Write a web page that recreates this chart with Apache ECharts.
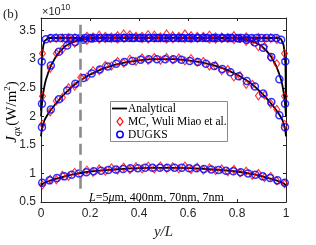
<!DOCTYPE html>
<html>
<head>
<meta charset="utf-8">
<script src="https://cdn.jsdelivr.net/npm/echarts@6/dist/echarts.min.js"></script>
<style>html,body{margin:0;padding:0;background:#fff}#c{width:316px;height:245px}</style>
</head>
<body>
<div id="c"></div>
<script>
// ---- data (values in units of 1e10 W/m^2) ----
const xTicks = [0, 0.2, 0.4, 0.6, 0.8, 1];
const yTicks = [0.5, 1, 1.5, 2, 2.5, 3, 3.5];

// Analytical curves
const xAna = [0,0.002,0.005,0.01,0.015,0.02,0.03,0.04,0.06,0.08,0.1,0.125,0.15,0.2,0.25,0.3,0.35,0.4,0.45,0.5,0.55,0.6,0.65,0.7,0.75,0.8,0.85,0.875,0.9,0.92,0.94,0.96,0.97,0.98,0.985,0.99,0.995,0.998,1];
const anaA = [2.1,2.85,3.1,3.25,3.32,3.35,3.37,3.37,3.37,3.37,3.37,3.37,3.37,3.37,3.37,3.37,3.37,3.37,3.37,3.37,3.37,3.37,3.37,3.37,3.37,3.37,3.37,3.37,3.37,3.37,3.37,3.37,3.37,3.35,3.32,3.25,3.1,2.85,2.1];
const anaB = [2.0,2.12,2.27,2.43,2.55,2.64,2.77,2.88,3.04,3.15,3.23,3.29,3.33,3.36,3.37,3.37,3.37,3.37,3.37,3.37,3.37,3.37,3.37,3.37,3.37,3.36,3.33,3.29,3.23,3.15,3.04,2.88,2.77,2.64,2.55,2.43,2.27,2.12,2.0];
const anaC = [1.65,1.73,1.80,1.88,1.94,1.98,2.05,2.11,2.22,2.32,2.41,2.51,2.60,2.73,2.83,2.90,2.95,2.98,3.00,3.00,3.00,2.98,2.95,2.90,2.83,2.73,2.60,2.51,2.41,2.32,2.22,2.11,2.05,1.98,1.94,1.88,1.80,1.73,1.65];
const anaD = [0.79,0.80,0.82,0.83,0.84,0.85,0.865,0.88,0.905,0.93,0.955,0.98,1.00,1.035,1.055,1.07,1.085,1.095,1.10,1.10,1.10,1.095,1.085,1.07,1.055,1.035,1.00,0.98,0.955,0.93,0.905,0.88,0.865,0.85,0.84,0.83,0.82,0.80,0.79];

// MC (Wuli Miao et al.)
const xMC = [0.006,0.0375,0.0625,0.0875,0.1125,0.1375,0.1625,0.1875,0.2125,0.2375,0.2625,0.2875,0.3125,0.3375,0.3625,0.3875,0.4125,0.4375,0.4625,0.4875,0.5125,0.5375,0.5625,0.5875,0.6125,0.6375,0.6625,0.6875,0.7125,0.7375,0.7625,0.7875,0.8125,0.8375,0.8625,0.8875,0.9125,0.9375,0.9625,0.994];
const mcA = [3.10,3.36,3.37,3.37,3.38,3.37,3.36,3.40,3.37,3.42,3.36,3.39,3.35,3.44,3.38,3.40,3.36,3.43,3.37,3.39,3.35,3.41,3.37,3.44,3.36,3.40,3.38,3.42,3.35,3.39,3.36,3.41,3.37,3.39,3.35,3.38,3.36,3.37,3.34,3.10];
const mcB = [2.35,2.84,3.10,3.17,3.29,3.28,3.36,3.33,3.39,3.35,3.40,3.36,3.41,3.37,3.43,3.38,3.40,3.35,3.42,3.37,3.44,3.36,3.40,3.36,3.41,3.37,3.40,3.35,3.39,3.36,3.38,3.34,3.36,3.31,3.31,3.22,3.22,3.03,2.92,2.35];
const mcC = [1.86,2.08,2.27,2.33,2.50,2.53,2.68,2.69,2.80,2.80,2.89,2.88,2.96,2.93,3.00,2.96,3.02,2.98,3.03,2.98,3.03,2.99,3.02,2.97,3.01,2.95,2.96,2.88,2.89,2.80,2.82,2.69,2.71,2.56,2.56,2.36,2.37,2.22,2.12,1.86];
const mcD = [0.80,0.90,0.89,0.97,0.95,1.02,0.99,1.06,1.02,1.08,1.04,1.10,1.06,1.11,1.07,1.12,1.08,1.13,1.08,1.13,1.09,1.12,1.08,1.13,1.07,1.11,1.06,1.10,1.05,1.08,1.03,1.07,1.01,1.04,0.97,1.00,0.93,0.95,0.87,0.82];

// DUGKS
const xDugA = [0.003,0.02,0.04,0.06,0.08,0.10,0.12,0.14,0.16,0.18,0.20,0.22,0.24,0.26,0.28,0.30,0.32,0.34,0.36,0.38,0.40,0.42,0.44,0.46,0.48,0.50,0.52,0.54,0.56,0.58,0.60,0.62,0.64,0.66,0.68,0.70,0.72,0.74,0.76,0.78,0.80,0.82,0.84,0.86,0.88,0.90,0.92,0.94,0.96,0.98,0.997];
const dugA = [2.96,3.35,3.37,3.37,3.37,3.37,3.37,3.37,3.37,3.37,3.37,3.37,3.37,3.37,3.37,3.37,3.37,3.37,3.37,3.37,3.37,3.37,3.37,3.37,3.37,3.37,3.37,3.37,3.37,3.37,3.37,3.37,3.37,3.37,3.37,3.37,3.37,3.37,3.37,3.37,3.37,3.37,3.37,3.37,3.37,3.37,3.37,3.37,3.37,3.34,2.96];
const xDugBC = [0.004,0.040,0.073,0.107,0.140,0.173,0.207,0.240,0.273,0.307,0.340,0.373,0.407,0.440,0.473,0.507,0.540,0.573,0.607,0.640,0.673,0.707,0.740,0.773,0.807,0.840,0.873,0.907,0.940,0.973,0.996];
const dugB = [2.22,2.89,3.13,3.24,3.30,3.34,3.36,3.37,3.37,3.37,3.37,3.37,3.37,3.37,3.37,3.37,3.37,3.37,3.37,3.37,3.37,3.37,3.37,3.37,3.36,3.34,3.29,3.20,3.04,2.65,2.22];
const dugC = [1.81,2.12,2.30,2.45,2.57,2.67,2.75,2.82,2.87,2.92,2.95,2.97,2.99,3.00,3.00,3.00,3.00,2.99,2.97,2.95,2.92,2.88,2.83,2.77,2.70,2.62,2.52,2.40,2.25,2.02,1.81];
const xDugD = [0.005,0.035,0.065,0.095,0.125,0.155,0.185,0.215,0.245,0.275,0.305,0.335,0.365,0.395,0.425,0.455,0.485,0.515,0.545,0.575,0.605,0.635,0.665,0.695,0.725,0.755,0.785,0.815,0.845,0.875,0.905,0.935,0.965,0.995];
const dugD = [0.84,0.88,0.92,0.95,0.98,1.00,1.02,1.04,1.05,1.06,1.07,1.08,1.09,1.09,1.10,1.10,1.10,1.10,1.10,1.10,1.09,1.09,1.08,1.07,1.06,1.05,1.04,1.02,1.00,0.98,0.95,0.92,0.88,0.84];

const seriesNames = ['Analytical', 'MC, Wuli Miao et al.', 'DUGKS'];

// ---- chart ----
const zip = (xs, ys) => xs.map((x, i) => [x, ys[i]]);
const AX = '#262626';
const SANS = 'Liberation Sans';
const SERIF = 'Liberation Serif';
const RED = '#ff0000', BLUE = '#0000ff';

function lineSeries(ys) {
  return {
    name: seriesNames[0], type: 'line', data: zip(xAna, ys), symbol: 'none',
    lineStyle: { color: '#000', width: 1.8 }, itemStyle: { color: '#000' }, z: 2, silent: true
  };
}
function mcSeries(ys) {
  return {
    name: seriesNames[1], type: 'scatter', data: zip(xMC, ys), symbol: 'diamond', symbolSize: [6, 8],
    itemStyle: { color: 'rgba(255,255,255,0)', borderColor: RED, borderWidth: 1.1 }, z: 3, silent: true
  };
}
function dugSeries(xs, ys) {
  return {
    name: seriesNames[2], type: 'scatter', data: zip(xs, ys), symbol: 'circle', symbolSize: 7,
    itemStyle: { color: 'rgba(255,255,255,0)', borderColor: BLUE, borderWidth: 1.5 }, z: 4, silent: true
  };
}

const arrowSeries = lineSeries(anaA);
arrowSeries.markLine = {
  silent: true, animation: false,
  symbol: ['none', 'triangle'], symbolSize: [0, [7, 9]],
  label: { show: false },
  lineStyle: { color: '#8c8c8c', width: 2.6, type: [11, 6] },
  data: [[{ coord: [0.159, 3.6] }, { coord: [0.159, 0.67] }]]
};

const axisCommon = {
  type: 'value', splitLine: { show: false },
  axisLine: { show: true, onZero: false, lineStyle: { color: AX, width: 1 } },
  axisTick: { show: true, inside: true, length: 3, lineStyle: { color: AX, width: 1 } }
};
const isTick = (arr, v) => arr.some(t => Math.abs(t - v) < 1e-6);

// legend (drawn as a boxed key inside the axes, MATLAB style)
const LX = 110.5, LY = 101.5, LW = 117, LH = 40, ROW = 13;
const legendGraphics = [
  { type: 'rect', shape: { x: LX, y: LY, width: LW, height: LH }, style: { fill: '#fff', stroke: '#8a8a8a', lineWidth: 1 }, z: 10 },
  { type: 'line', shape: { x1: LX + 1.5, y1: LY + 7, x2: LX + 16.5, y2: LY + 7 }, style: { stroke: '#000', lineWidth: 1.8 }, z: 11 },
  { type: 'polygon', shape: { points: [[LX + 9.5, LY + 7 + ROW - 4], [LX + 12.5, LY + 7 + ROW], [LX + 9.5, LY + 7 + ROW + 4], [LX + 6.5, LY + 7 + ROW]] },
    style: { fill: 'none', stroke: RED, lineWidth: 1.2 }, z: 11 },
  { type: 'circle', shape: { cx: LX + 9.5, cy: LY + 7 + 2 * ROW, r: 3.2 }, style: { fill: 'none', stroke: BLUE, lineWidth: 1.5 }, z: 11 }
].concat(seriesNames.map((n, i) => ({
  type: 'text', x: LX + 17.5, y: LY + 7 + i * ROW, z: 11,
  style: { text: n, font: '11.5px "Liberation Serif"', fill: '#000', verticalAlign: 'middle', align: 'left' }
})));

const option = {
  animation: false,
  backgroundColor: '#fff',
  grid: { left: 41, right: 30, top: 18, bottom: 34 },
  xAxis: [
    Object.assign({}, axisCommon, {
      min: 0, max: 1, interval: 0.2, position: 'bottom',
      axisLabel: { color: AX, fontFamily: SANS, fontSize: 12, margin: 6,
        formatter: v => isTick(xTicks, v) ? String(+v.toFixed(1)) : '' },
      name: 'y/L', nameLocation: 'middle', nameGap: 16,
      nameTextStyle: { fontFamily: SERIF, fontStyle: 'italic', fontSize: 15, color: AX }
    }),
    Object.assign({}, axisCommon, { min: 0, max: 1, interval: 0.2, position: 'top', axisLabel: { show: false } })
  ],
  yAxis: [
    Object.assign({}, axisCommon, {
      min: 0.5, max: 3.72, interval: 0.5, position: 'left',
      axisLabel: { color: AX, fontFamily: SANS, fontSize: 12, margin: 5,
        formatter: v => isTick(yTicks, v) ? String(+v.toFixed(1)) : '' }
    }),
    Object.assign({}, axisCommon, { min: 0.5, max: 3.72, interval: 0.5, position: 'right', axisLabel: { show: false } })
  ],
  series: [
    arrowSeries, lineSeries(anaB), lineSeries(anaC), lineSeries(anaD),
    mcSeries(mcA), mcSeries(mcB), mcSeries(mcC), mcSeries(mcD),
    dugSeries(xDugA, dugA), dugSeries(xDugBC, dugB), dugSeries(xDugBC, dugC), dugSeries(xDugD, dugD)
  ],
  graphic: [
    { type: 'text', left: 3, top: 8, style: { text: '(b)', font: '13px "Liberation Serif"', fill: AX } },
    { type: 'text', left: 42, top: 3, style: {
        text: '{a|×10}{b|10}', fill: AX,
        rich: { a: { fontFamily: SANS, fontSize: 11, color: AX, lineHeight: 14, verticalAlign: 'bottom' },
                b: { fontFamily: SANS, fontSize: 8.5, color: AX, lineHeight: 14, verticalAlign: 'top' } } } },
    { type: 'text', x: 12, y: 112, rotation: Math.PI / 2, style: {
        text: '{j|J}{s|qx}{n|(W/m}{p|2}{n|)}', align: 'center', verticalAlign: 'middle',
        rich: {
          j: { fontFamily: SERIF, fontStyle: 'italic', fontSize: 15, color: AX, lineHeight: 20, verticalAlign: 'middle' },
          s: { fontFamily: SERIF, fontStyle: 'italic', fontSize: 10, color: AX, lineHeight: 20, verticalAlign: 'bottom', padding: [0, 1, 0, 0] },
          n: { fontFamily: SERIF, fontSize: 15, color: AX, lineHeight: 20, verticalAlign: 'middle' },
          p: { fontFamily: SERIF, fontSize: 9, color: AX, lineHeight: 20, verticalAlign: 'top', padding: [1, 0, 0, 0] }
        } } },
    { type: 'text', left: 89, top: 192, style: {
        text: '{i|L}{n|=5}{i|μ}{n|m, 400nm, 70nm, 7nm}',
        rich: {
          i: { fontFamily: SERIF, fontStyle: 'italic', fontSize: 12, color: '#000' },
          n: { fontFamily: SERIF, fontSize: 12, color: '#000' }
        } } }
  ].concat(legendGraphics)
};

const chart = echarts.init(document.getElementById('c'), null, { renderer: 'canvas' });
chart.setOption(option);
</script>
</body>
</html>
